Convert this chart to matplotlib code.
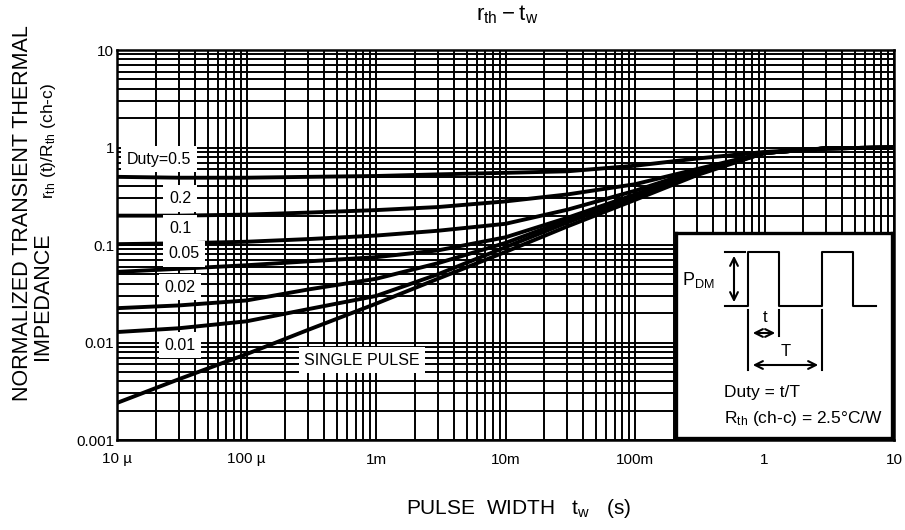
import numpy as np
import matplotlib
matplotlib.use('Agg')
import matplotlib.pyplot as plt
from matplotlib.ticker import FixedLocator, LogLocator, NullFormatter

plt.rcParams['font.family'] = ['Liberation Sans', 'DejaVu Sans']
plt.rcParams['mathtext.default'] = 'regular'

# pulse width (s)
t_w = [1e-5, 3e-5, 1e-4, 3e-4, 1e-3, 3e-3, 1e-2, 3e-2, 0.1, 0.3, 1, 3, 10]

# normalized transient thermal impedance per duty
r_d05 = [0.50, 0.49, 0.49, 0.50, 0.51, 0.53, 0.55, 0.57, 0.65, 0.77, 0.90, 0.98, 1.0]
r_d02 = [0.20, 0.20, 0.205, 0.215, 0.228, 0.245, 0.28, 0.33, 0.42, 0.60, 0.88, 0.98, 1.0]
r_d01 = [0.102, 0.104, 0.108, 0.115, 0.125, 0.14, 0.165, 0.23, 0.36, 0.58, 0.88, 0.98, 1.0]
r_d005 = [0.053, 0.057, 0.062, 0.068, 0.075, 0.088, 0.12, 0.19, 0.33, 0.56, 0.88, 0.98, 1.0]
r_d002 = [0.0225, 0.024, 0.027, 0.035, 0.045, 0.065, 0.105, 0.18, 0.32, 0.55, 0.88, 0.98, 1.0]
r_d001 = [0.0128, 0.014, 0.0165, 0.022, 0.030, 0.050, 0.095, 0.17, 0.31, 0.54, 0.88, 0.98, 1.0]
r_single = [0.0024, 0.0042, 0.0076, 0.0135, 0.025, 0.045, 0.085, 0.155, 0.29, 0.52, 0.88, 0.98, 1.0]

curves = [r_d05, r_d02, r_d01, r_d005, r_d002, r_d001, r_single]

# curve labels
label_text = ['Duty=0.5', '0.2', '0.1', '0.05', '0.02', '0.01', 'SINGLE PULSE']
label_t = [2.1e-5, 3.07e-5, 3.07e-5, 3.3e-5, 3.07e-5, 3.07e-5, 7.8e-4]
label_r = [0.76, 0.30, 0.149, 0.081, 0.037, 0.0094, 0.0066]

x_ticks = [1e-5, 1e-4, 1e-3, 1e-2, 1e-1, 1, 10]
x_tick_labels = ['10 µ', '100 µ', '1m', '10m', '100m', '1', '10']
y_ticks = [1e-3, 1e-2, 1e-1, 1, 10]
y_tick_labels = ['0.001', '0.01', '0.1', '1', '10']

W, H = 905, 530
fig = plt.figure(figsize=(W / 100, H / 100), dpi=100)
ax = fig.add_axes([117 / W, 1 - 440 / H, 777 / W, 390 / H])
ax.set_xscale('log')
ax.set_yscale('log')
ax.set_xlim(1e-5, 10)
ax.set_ylim(1e-3, 10)

ax.xaxis.set_major_locator(FixedLocator(x_ticks))
ax.set_xticklabels(x_tick_labels)
ax.yaxis.set_major_locator(FixedLocator(y_ticks))
ax.set_yticklabels(y_tick_labels)
for a in (ax.xaxis, ax.yaxis):
    a.set_minor_locator(LogLocator(base=10, subs=np.arange(2, 10)))
    a.set_minor_formatter(NullFormatter())
ax.grid(which='both', color='black', lw=1.4, zorder=1)
ax.tick_params(which='both', length=0, labelsize=11)
ax.tick_params(axis='x', pad=9)
ax.tick_params(axis='y', pad=2)
for s in ax.spines.values():
    s.set_linewidth(1.8)

for r in curves:
    ax.plot(t_w, r, color='black', lw=2.8, zorder=3, solid_joinstyle='round')

for txt, tx, ty in zip(label_text, label_t, label_r):
    ax.text(tx, ty, txt, fontsize=11.5, ha='center', va='center', zorder=4,
            bbox=dict(boxstyle='square,pad=0.35', fc='white', ec='none'))

# titles / axis labels
fig.text(507 / W, 1 - 15 / H, r'$r_{th} - t_w$', fontsize=16, ha='center', va='center')
fig.text(519 / W, 1 - 508 / H, r'PULSE  WIDTH   $t_w$   (s)', fontsize=15,
         ha='center', va='center')
fig.text(23 / W, 1 - 213 / H, 'NORMALIZED TRANSIENT THERMAL', fontsize=15.5,
         rotation=90, ha='center', va='center')
fig.text(43 / W, 1 - 296 / H, 'IMPEDANCE', fontsize=15.5,
         rotation=90, ha='center', va='center')
fig.text(48 / W, 1 - 141 / H, r'$r_{th}$ (t)/$R_{th}$ (ch-c)',
         fontsize=12.5, rotation=90, ha='center', va='center')

# inset diagram
ins = fig.add_axes([676 / W, 1 - 438 / H, 216 / W, 205 / H], zorder=5)
ins.set_xlim(676, 892)
ins.set_ylim(438, 233)
ins.set_xticks([])
ins.set_yticks([])
ins.set_facecolor('white')
for s in ins.spines.values():
    s.set_linewidth(2.4)

ins.plot([725, 748, 748, 779, 779, 822, 822, 853, 853, 876],
         [306, 306, 252, 252, 306, 306, 252, 252, 306, 306], color='black', lw=1.5)
ins.plot([725, 745], [252, 252], color='black', lw=1.5)
ins.annotate('', xy=(734, 253), xytext=(734, 305),
             arrowprops=dict(arrowstyle='<->', lw=1.5, color='black', mutation_scale=14))
for xv, y1 in [(748, 370), (779, 336), (822, 370)]:
    ins.plot([xv, xv], [310, y1], color='black', lw=1.5)
ins.annotate('', xy=(750, 333), xytext=(778, 333),
             arrowprops=dict(arrowstyle='<->', lw=1.5, color='black', mutation_scale=14))
ins.annotate('', xy=(750, 365), xytext=(821, 365),
             arrowprops=dict(arrowstyle='<->', lw=1.5, color='black', mutation_scale=14))
ins.text(765, 318, 't', fontsize=12, ha='center', va='center')
ins.text(786, 352, 'T', fontsize=12, ha='center', va='center')
ins.text(682, 280, r'P$_{DM}$', fontsize=13, ha='left', va='center')
ins.text(724, 392, 'Duty = t/T', fontsize=12.5, ha='left', va='center')
ins.text(724, 418, r'R$_{th}$ (ch-c) = 2.5°C/W', fontsize=12.5, ha='left', va='center')

fig.savefig('out.png', dpi=100)
